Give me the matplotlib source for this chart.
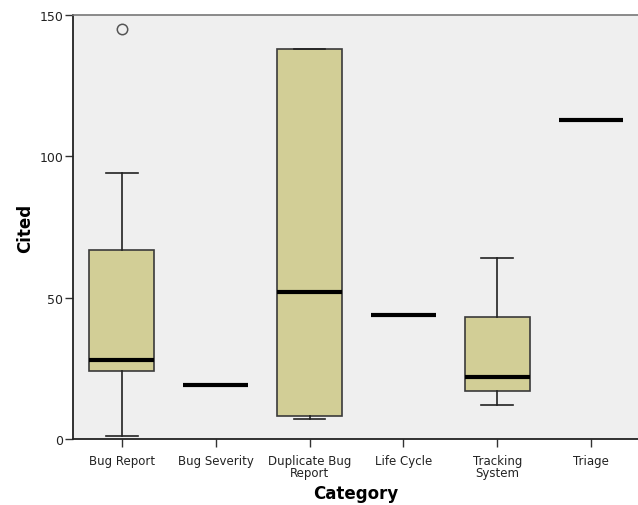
import matplotlib.pyplot as plt

# Citation counts per category: five-number summaries plus outliers
categories = ["Bug Report", "Bug Severity", "Duplicate Bug\nReport",
              "Life Cycle", "Tracking\nSystem", "Triage"]
whislo = [1, 19, 7, 44, 12, 113]
q1 = [24, 19, 8, 44, 17, 113]
med = [28, 19, 52, 44, 22, 113]
q3 = [67, 19, 138, 44, 43, 113]
whishi = [94, 19, 138, 44, 64, 113]
fliers = [[145], [], [], [], [], []]

BOX_FACE = "#d2ce96"
BG = "#efefef"

stats = []
for i, lab in enumerate(categories):
    stats.append(dict(label=lab, whislo=whislo[i], q1=q1[i], med=med[i],
                      q3=q3[i], whishi=whishi[i], fliers=fliers[i]))

fig = plt.figure(figsize=(6.38, 5.06), dpi=100)
ax = fig.add_axes([0.1144, 0.1304, 0.8856, 0.838])
ax.set_facecolor(BG)

ax.bxp(stats, positions=range(len(categories)), widths=0.69,
       capwidths=0.34, patch_artist=True, showfliers=True,
       boxprops=dict(facecolor=BOX_FACE, edgecolor="#3a3a3a", linewidth=1.2),
       medianprops=dict(color="black", linewidth=3.0, solid_capstyle="butt"),
       whiskerprops=dict(color="#222222", linewidth=1.2),
       capprops=dict(color="#222222", linewidth=1.2),
       flierprops=dict(marker="o", markersize=7.5, markerfacecolor="none",
                       markeredgecolor="#555555", markeredgewidth=1.1))

ax.set_xlim(-0.52, 5.5)
ax.set_ylim(0, 150)
ax.set_yticks([0, 50, 100, 150])
ax.set_xticks(range(len(categories)))
ax.set_xticklabels(categories, fontsize=8.5, linespacing=0.85)
ax.tick_params(axis="y", labelsize=9, length=6, width=1, color="#333333",
               labelcolor="#222222", pad=1)
ax.tick_params(axis="x", length=6, width=1, color="#333333",
               labelcolor="#222222", pad=5)

for side in ["left", "bottom"]:
    ax.spines[side].set_color("#222222")
    ax.spines[side].set_linewidth(1.3)
ax.spines["top"].set_color("#777777")
ax.spines["top"].set_linewidth(1.2)
ax.spines["right"].set_visible(False)

ax.set_xlabel("Category", fontsize=12, fontweight="bold", labelpad=4)
ax.set_ylabel("Cited", fontsize=12, fontweight="bold", labelpad=4)

fig.savefig("out.png", dpi=100, facecolor="white")
